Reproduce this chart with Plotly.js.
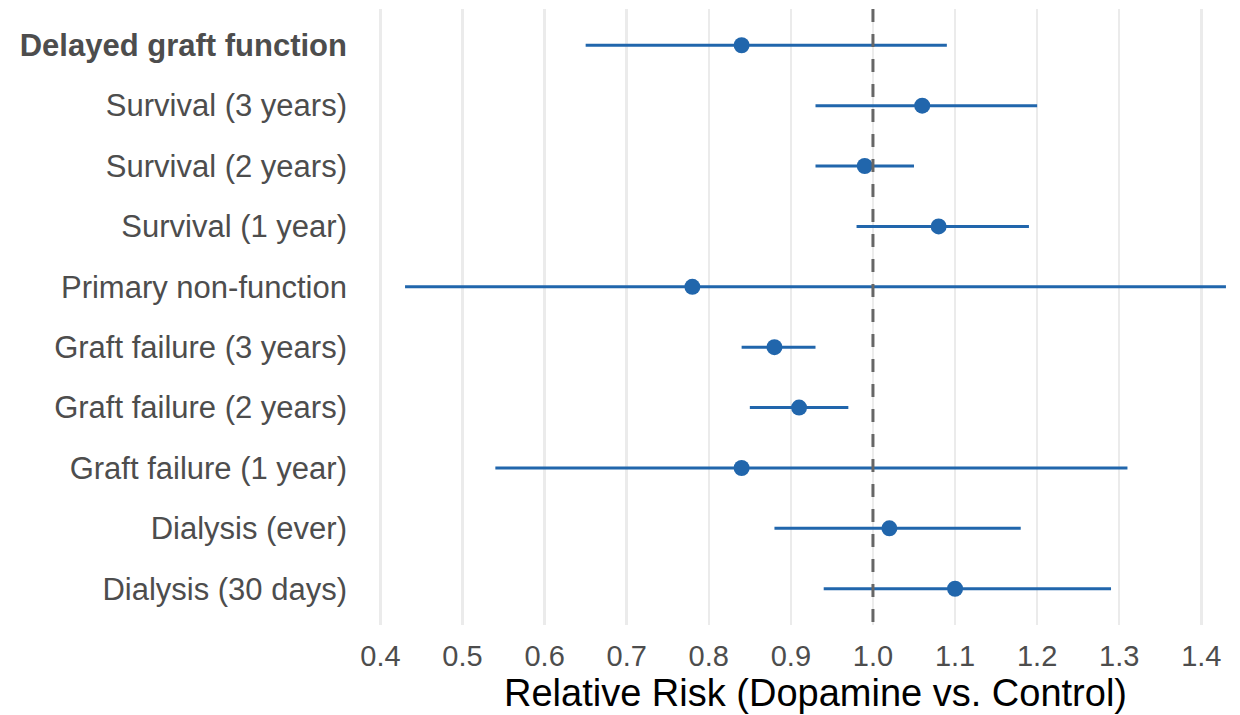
<!DOCTYPE html>
<html>
<head>
<meta charset="utf-8">
<script src="https://cdn.plot.ly/plotly-3.0.1.min.js"></script>
<style>
html,body{margin:0;padding:0;overflow:hidden;background:#fff;}
#chart{width:1267px;height:715px;}
</style>
</head>
<body>
<div id="chart"></div>
<script>
const outcomes = ["Delayed graft function","Survival (3 years)","Survival (2 years)","Survival (1 year)","Primary non-function","Graft failure (3 years)","Graft failure (2 years)","Graft failure (1 year)","Dialysis (ever)","Dialysis (30 days)"];
const rr    = [0.84, 1.06, 0.99, 1.08, 0.78, 0.88, 0.91, 0.84, 1.02, 1.10];
const lower = [0.65, 0.93, 0.93, 0.98, 0.43, 0.84, 0.85, 0.54, 0.88, 0.94];
const upper = [1.09, 1.20, 1.05, 1.19, 1.43, 0.93, 0.97, 1.31, 1.18, 1.29];
const xTicks = [0.4,0.5,0.6,0.7,0.8,0.9,1.0,1.1,1.2,1.3,1.4];
const xTickLabels = ["0.4","0.5","0.6","0.7","0.8","0.9","1.0","1.1","1.2","1.3","1.4"];
const boldOutcome = "Delayed graft function";
const referenceRR = 1.0;

const blue = "#2166ac";
const trace = {
  type: "scatter",
  mode: "markers",
  x: rr,
  y: outcomes,
  marker: {color: blue, size: 16},
  error_x: {
    type: "data",
    symmetric: false,
    array: upper.map((u,i)=>u-rr[i]),
    arrayminus: lower.map((l,i)=>rr[i]-l),
    color: blue,
    thickness: 3,
    width: 0
  },
  hoverinfo: "x+y",
  showlegend: false
};

const layout = {
  width: 1267,
  height: 715,
  margin: {l: 364, r: 0, t: 9, b: 90},
  paper_bgcolor: "#ffffff",
  plot_bgcolor: "#ffffff",
  font: {family: "Liberation Sans, Arial, sans-serif", color: "#4d4d4d"},
  xaxis: {
    range: [0.38, 1.48],
    tickvals: xTicks,
    ticktext: xTickLabels,
    showgrid: true,
    gridcolor: "#ebebeb",
    gridwidth: 2.5,
    zeroline: false,
    showline: false,
    ticks: "",
    ticklabelstandoff: 11,
    tickfont: {size: 29, color: "#4d4d4d"},
    title: {text: "Relative Risk (Dopamine vs. Control)", font: {size: 38, color: "#000000"}, standoff: 6}
  },
  yaxis: {
    type: "category",
    categoryorder: "array",
    categoryarray: outcomes,
    range: [outcomes.length - 0.4, -0.6],
    tickmode: "array",
    tickvals: outcomes,
    ticktext: outcomes.map(o => o === boldOutcome ? "<b>" + o + "</b>" : o),
    showgrid: false,
    zeroline: false,
    showline: false,
    ticks: "",
    ticklabelstandoff: 16,
    tickfont: {size: 31, color: "#4d4d4d"}
  },
  shapes: [{
    type: "line",
    xref: "x", yref: "paper",
    x0: referenceRR, x1: referenceRR, y0: 1, y1: 0,
    line: {color: "#666666", width: 3, dash: "13px,12px"},
    layer: "above"
  }]
};

Plotly.newPlot("chart", [trace], layout, {displayModeBar: false, staticPlot: true});
</script>
</body>
</html>
